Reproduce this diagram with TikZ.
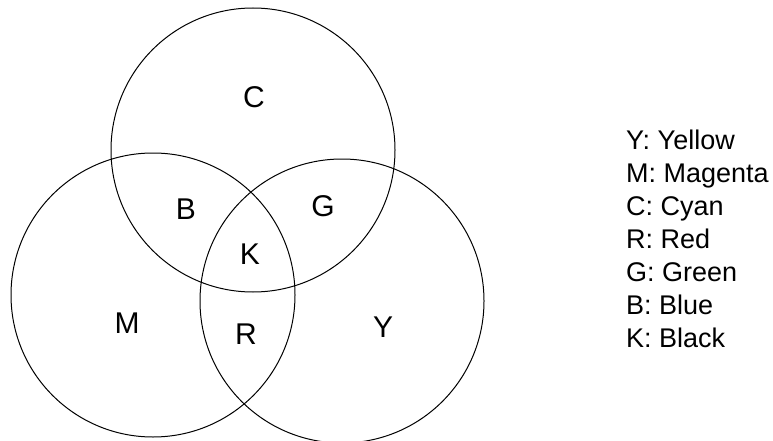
\documentclass[tikz,border=0pt]{standalone}
\usepackage{fontspec}
\setmainfont{Liberation Sans}
\usepackage{tikz}
\usetikzlibrary{positioning}
\tikzstyle{ring} = [circle, draw=black, line width=1pt, minimum size=284pt, inner sep=0pt]
\tikzstyle{region} = [font=\fontsize{30}{36}\selectfont, inner sep=0pt]
\tikzstyle{key} = [anchor=base west, inner sep=0pt, font=\fontsize{27}{33}\selectfont]

\begin{document}
\begin{tikzpicture}[x=1pt, y=-1pt]
\useasboundingbox (0,0) rectangle (773,441);
\node (cyan) [ring] at (253,150) {};
\node (magenta) [ring] at (153,295) {};
\node (yellow) [ring] at (342,301) {};
\node (c) [region] at (254,97.5) {C};
\node (b) [region] at (186,209) {B};
\node (g) [region] at (323,206) {G};
\node (k) [region] at (250,254) {K};
\node (m) [region] at (127,323) {M};
\node (r) [region] at (246,334) {R};
\node (y) [region] at (383,327) {Y};
% legend
\node (keyy) [key] at (626,149) {Y: Yellow};
\node (keym) [key] at (626,182) {M: Magenta};
\node (keyc) [key] at (626,215) {C: Cyan};
\node (keyr) [key] at (626,248) {R: Red};
\node (keyg) [key] at (626,281) {G: Green};
\node (keyb) [key] at (626,314) {B: Blue};
\node (keyk) [key] at (626,347) {K: Black};
\end{tikzpicture}
\end{document}
